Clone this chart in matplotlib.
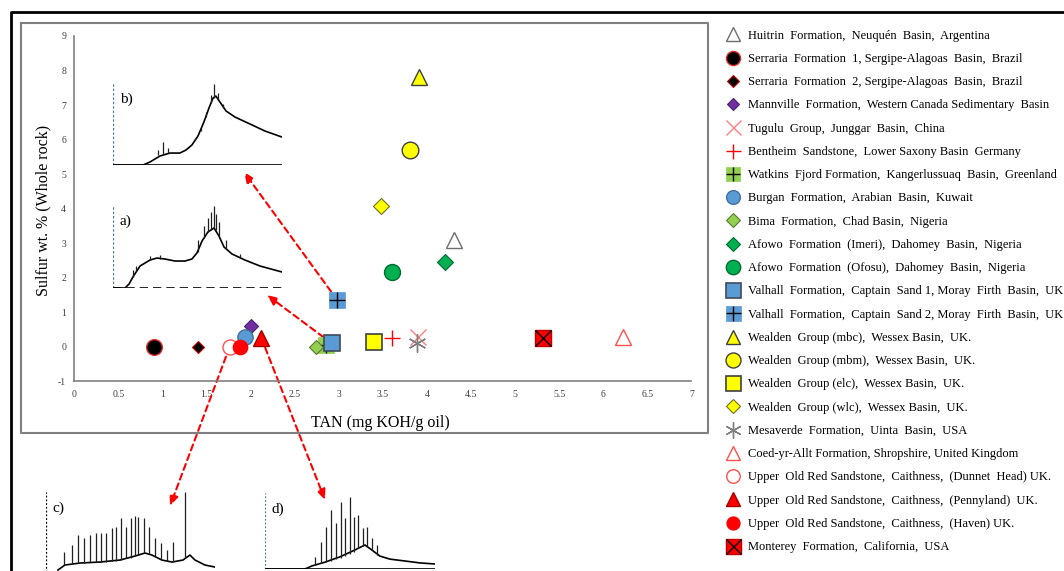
import matplotlib
matplotlib.use("Agg")
import matplotlib.pyplot as plt
from matplotlib.lines import Line2D

plt.rcParams["font.family"] = ["Liberation Serif", "DejaVu Serif"]
plt.rcParams["axes.unicode_minus"] = False

# scatter data: TAN (mg KOH/g oil) vs sulfur wt. %
labels = [
    "Huitrin  Formation,  Neuquén  Basin,  Argentina",
    "Serraria  Formation  1, Sergipe-Alagoas  Basin,  Brazil",
    "Serraria  Formation  2, Sergipe-Alagoas  Basin,  Brazil",
    "Mannville  Formation,  Western Canada Sedimentary  Basin",
    "Tugulu  Group,  Junggar  Basin,  China",
    "Bentheim  Sandstone,  Lower Saxony Basin  Germany",
    "Watkins  Fjord Formation,  Kangerlussuaq  Basin,  Greenland",
    "Burgan  Formation,  Arabian  Basin,  Kuwait",
    "Bima  Formation,  Chad Basin,  Nigeria",
    "Afowo  Formation  (Imeri),  Dahomey  Basin,  Nigeria",
    "Afowo  Formation  (Ofosu),  Dahomey  Basin,  Nigeria",
    "Valhall  Formation,  Captain  Sand 1, Moray  Firth  Basin,  UK",
    "Valhall  Formation,  Captain  Sand 2, Moray  Firth  Basin,  UK",
    "Wealden  Group (mbc),  Wessex Basin,  UK.",
    "Wealden  Group (mbm),  Wessex Basin,  UK.",
    "Wealden  Group (elc),  Wessex Basin,  UK.",
    "Wealden  Group (wlc),  Wessex Basin,  UK.",
    "Mesaverde  Formation,  Uinta  Basin,  USA",
    "Coed-yr-Allt Formation, Shropshire, United Kingdom",
    "Upper  Old Red Sandstone,  Caithness,  (Dunnet  Head) UK.",
    "Upper  Old Red Sandstone,  Caithness,  (Pennyland)  UK.",
    "Upper  Old Red Sandstone,  Caithness,  (Haven) UK.",
    "Monterey  Formation,  California,  USA",
]
tan = [4.3, 0.9, 1.4, 2.0, 3.9, 3.6, 2.85, 1.93, 2.74, 4.2, 3.6, 2.92, 2.98,
       3.91, 3.81, 3.4, 3.48, 3.89, 6.22, 1.76, 2.12, 1.88, 5.32]
sulfur = [3.1, 0.0, 0.0, 0.6, 0.3, 0.26, 0.05, 0.3, 0.0, 2.46, 2.17, 0.1, 1.36,
          7.8, 5.7, 0.14, 4.09, 0.1, 0.29, 0.0, 0.26, 0.0, 0.26]

# marker, size, face, edge, edge width, overlay marker (or None)
styles = [
    ("^", 11.3, "white", "#6f6f6f", 1.0, None),
    ("o", 11.3, "black", "#e03030", 1.0, None),
    ("D", 6.6, "black", "#c00000", 0.8, None),
    ("D", 7.1, "#7030a0", "#4b2070", 0.8, None),
    ("x", 12, "#ff8080", "#ff8080", 1.0, None),
    ("+", 12, "red", "red", 1.0, None),
    ("s", 11, "#92d050", "#92d050", 0.5, "+"),
    ("o", 11, "#5b9bd5", "#41719c", 1.0, None),
    ("D", 7.6, "#92d050", "#5a7a30", 0.8, None),
    ("D", 8, "#00b050", "#006b30", 0.8, None),
    ("o", 11.5, "#00b050", "#006b30", 1.0, None),
    ("s", 12, "#5b9bd5", "#404a5a", 1.2, None),
    ("s", 12, "#5b9bd5", "#5b9bd5", 0.5, "+"),
    ("^", 11.5, "yellow", "#404040", 1.0, None),
    ("o", 12, "yellow", "#404040", 1.0, None),
    ("s", 12, "yellow", "#404040", 1.2, None),
    ("D", 8, "yellow", "#707020", 0.8, None),
    ((6, 2, 0), 13, "#7f7f7f", "#7f7f7f", 1.0, None),
    ("^", 11.5, "white", "#ff5050", 1.0, None),
    ("o", 10.8, "white", "#ff5050", 1.0, None),
    ("^", 11, "red", "#a00000", 1.0, None),
    ("o", 10.3, "red", "red", 1.0, None),
    ("s", 12, "red", "#c00000", 1.0, "x"),
]

x_ticks = [0, 0.5, 1, 1.5, 2, 2.5, 3, 3.5, 4, 4.5, 5, 5.5, 6, 6.5, 7]
x_tick_labels = ["0", "0.5", "1", "1.5", "2", "2.5", "3", "3.5", "4", "4.5",
                 "5", "5.5", "6", "6.5", "7"]
y_ticks = [-1, 0, 1, 2, 3, 4, 5, 6, 7, 8, 9]

# chromatogram insets, normalised 0-1: envelope and peak spikes
a_env_x = [0, 0.071, 0.095, 0.118, 0.160, 0.219, 0.260, 0.308, 0.367, 0.426, 0.467,
           0.497, 0.527, 0.562, 0.598, 0.627, 0.657, 0.704, 0.781, 0.870, 1.0]
a_env_y = [0, 0, 0.048, 0.133, 0.265, 0.337, 0.361, 0.349, 0.325, 0.325, 0.349,
           0.422, 0.566, 0.675, 0.723, 0.627, 0.494, 0.410, 0.337, 0.265, 0.193]
a_pk_x = [0.118, 0.136, 0.219, 0.278, 0.503, 0.538, 0.562, 0.580, 0.598, 0.609, 0.627, 0.669, 0.751]
a_pk_top = [0.217, 0.265, 0.386, 0.398, 0.578, 0.747, 0.843, 0.916, 0.988, 0.892, 0.795, 0.578, 0.410]
a_pk_base = [0.13, 0.2, 0.337, 0.355, 0.43, 0.6, 0.67, 0.7, 0.72, 0.7, 0.63, 0.47, 0.36]

b_env_x = [0, 0.178, 0.219, 0.278, 0.337, 0.396, 0.432, 0.467, 0.503, 0.538, 0.568,
           0.592, 0.609, 0.633, 0.669, 0.722, 0.811, 0.899, 1.0]
b_env_y = [0, 0, 0.037, 0.11, 0.146, 0.146, 0.183, 0.244, 0.354, 0.524, 0.695,
           0.817, 0.841, 0.768, 0.659, 0.585, 0.5, 0.415, 0.341]
b_pk_x = [0.266, 0.296, 0.325, 0.485, 0.521, 0.550, 0.580, 0.598, 0.621, 0.651]
b_pk_top = [0.183, 0.28, 0.207, 0.329, 0.451, 0.646, 0.854, 0.988, 0.878, 0.744]
b_pk_base = [0.12, 0.13, 0.146, 0.3, 0.42, 0.58, 0.76, 0.82, 0.8, 0.7]

c_env_x = [0.071, 0.112, 0.201, 0.320, 0.438, 0.527, 0.586, 0.627, 0.686, 0.746,
           0.811, 0.852, 0.882, 0.941, 1.0]
c_env_y = [0.025, 0.0875, 0.1125, 0.125, 0.15, 0.2, 0.2375, 0.2125, 0.15, 0.125,
           0.15, 0.2125, 0.15, 0.0875, 0.0625]
c_pk_x = [0.107, 0.154, 0.189, 0.225, 0.260, 0.296, 0.325, 0.355, 0.391, 0.414, 0.444,
          0.473, 0.503, 0.527, 0.544, 0.580, 0.609, 0.645, 0.680, 0.716, 0.751, 0.822]
c_pk_top = [0.25, 0.338, 0.463, 0.425, 0.463, 0.488, 0.488, 0.488, 0.55, 0.5625, 0.675,
            0.5625, 0.675, 0.70, 0.6875, 0.675, 0.5625, 0.425, 0.3625, 0.275, 0.375, 1.0]
c_pk_base = [0.09, 0.11, 0.11, 0.115, 0.12, 0.12, 0.125, 0.13, 0.14, 0.14, 0.15,
             0.17, 0.18, 0.2, 0.21, 0.235, 0.23, 0.2, 0.16, 0.14, 0.125, 0.17]

d_env_x = [0, 0.235, 0.276, 0.353, 0.441, 0.529, 0.588, 0.629, 0.676, 0.735, 0.824, 0.912, 1.0]
d_env_y = [0, 0, 0.04, 0.09, 0.16, 0.25, 0.316, 0.25, 0.17, 0.13, 0.105, 0.08, 0.066]
d_pk_x = [0.294, 0.329, 0.359, 0.388, 0.418, 0.447, 0.471, 0.5, 0.524, 0.547, 0.576,
          0.6, 0.629, 0.659]
d_pk_top = [0.158, 0.355, 0.553, 0.776, 0.605, 0.882, 0.671, 0.947, 0.684, 0.711, 0.539,
            0.553, 0.408, 0.316]
d_pk_base = [0.05, 0.08, 0.09, 0.11, 0.13, 0.15, 0.17, 0.2, 0.23, 0.27, 0.3, 0.3, 0.25, 0.19]

fig = plt.figure(figsize=(10.64, 5.71), dpi=100)

# frames around the chart
fig.add_artist(Line2D([0.0103, 0.0103, 1.0], [0.0, 0.979, 0.979], color="black", lw=2))
fig.add_artist(Line2D([0.0197, 0.6654, 0.6654, 0.0197, 0.0197],
                      [0.9597, 0.9597, 0.2417, 0.2417, 0.9597], color="#808080", lw=1.5))

ax = fig.add_axes([0.0700, 0.3319, 0.5799, 0.6051])
ax.set_xlim(0, 7)
ax.set_ylim(-1, 9)
ax.set_xticks(x_ticks)
ax.set_xticklabels(x_tick_labels)
ax.set_yticks(y_ticks)
ax.tick_params(length=0, labelsize=7, colors="#404040", pad=6)
for s in ["top", "right"]:
    ax.spines[s].set_visible(False)
for s in ["left", "bottom"]:
    ax.spines[s].set_color("#808080")
    ax.spines[s].set_linewidth(1.2)
ax.set_ylabel("Sulfur wt. % (Whole rock)", fontsize=11.5)
ax.yaxis.set_label_coords(-0.038, 0.496)
ax.set_xlabel("TAN (mg KOH/g oil)", fontsize=11.5)
ax.xaxis.set_label_coords(0.495, -0.097)

handles = []
for i, (mk, ms, fc, ec, ew, over) in enumerate(styles):
    ln, = ax.plot([tan[i]], [sulfur[i]], linestyle="none", marker=mk, markersize=ms,
                  markerfacecolor=fc, markeredgecolor=ec, markeredgewidth=ew, zorder=3 + i * 0.01)
    if over:
        ov, = ax.plot([tan[i]], [sulfur[i]], linestyle="none", marker=over, markersize=ms,
                      color="black", markeredgewidth=1.0, zorder=3 + i * 0.01 + 0.005)
        handles.append((ln, ov))
    else:
        handles.append(ln)

fig.legend(handles, labels, loc="upper left", bbox_to_anchor=(0.682, 0.948),
           frameon=False, fontsize=9, labelspacing=0.9, handlelength=1.2,
           handletextpad=0.6, borderpad=0, borderaxespad=0, markerscale=0.9)

# red dashed arrows from selected samples to their chromatograms
arrow_src = [12, 11, 19, 20]
arrow_dst = [(0.2293, 0.6988), (0.2509, 0.4834), (0.1598, 0.1138), (0.3055, 0.1243)]
for i, dst in zip(arrow_src, arrow_dst):
    ax.annotate("", xy=dst, xycoords="figure fraction", xytext=(tan[i], sulfur[i]),
                textcoords="data", annotation_clip=False,
                arrowprops=dict(arrowstyle="-|>,head_length=0.6,head_width=0.25",
                                color="red", lw=1.5, linestyle=(0, (3, 2)),
                                shrinkA=0, shrinkB=0), zorder=2)


def chromatogram(rect, ex, ey, px, ptop, pbase, tag, left_col, left_ls, base_ls):
    a = fig.add_axes(rect)
    a.set_xlim(0, 1)
    a.set_ylim(0, 1)
    a.axis("off")
    a.plot([0, 0], [0, 1], color=left_col, lw=0.9, linestyle=left_ls)
    if base_ls:
        a.plot([0, 1], [0, 0], color="black", lw=1.2, linestyle=base_ls)
    a.plot(ex, ey, color="black", lw=1.2)
    a.vlines(px, pbase, ptop, color="#202020", lw=0.9)
    a.text(0.04, 0.88, tag, fontsize=11, va="top", ha="left")
    return a


chromatogram([0.1062, 0.4956, 0.1588, 0.1454], a_env_x, a_env_y, a_pk_x, a_pk_top,
             a_pk_base, "a)", "#4a7ab5", (0, (2, 1.5)), (0, (5, 3)))
chromatogram([0.1062, 0.7110, 0.1588, 0.1436], b_env_x, b_env_y, b_pk_x, b_pk_top,
             b_pk_base, "b)", "#4a7ab5", (0, (2, 1.5)), "-")
chromatogram([0.0432, -0.0018, 0.1588, 0.1400], c_env_x, c_env_y, c_pk_x, c_pk_top,
             c_pk_base, "c)", "black", (0, (1.5, 1.5)), None)
chromatogram([0.2490, 0.0035, 0.1598, 0.1331], d_env_x, d_env_y, d_pk_x, d_pk_top,
             d_pk_base, "d)", "#4a7ab5", (0, (1.5, 1.5)), "-")

fig.savefig("out.png", dpi=100)
